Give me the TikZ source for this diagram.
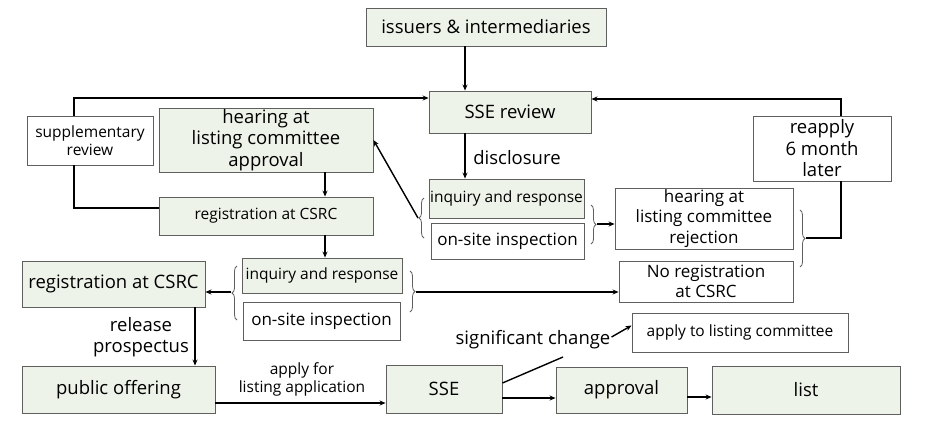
\documentclass[tikz,border=0pt]{standalone}
\usepackage{fontspec}
\setmainfont{Open Sans}
\usetikzlibrary{arrows.meta,decorations.pathreplacing}
\definecolor{boxgreen}{RGB}{238,243,233}
\definecolor{boxline}{RGB}{95,95,95}
\newcommand{\bigtxt}{\fontsize{18.5}{21.5}\selectfont}
\newcommand{\midtxt}{\fontsize{17}{20.5}\selectfont}
\newcommand{\smalltxt}{\fontsize{15.5}{18}\selectfont}
\begin{document}
\begin{tikzpicture}[x=1pt,y=-1pt,
  every node/.style={inner sep=0pt,align=center},
  gbox/.style={draw=boxline,line width=0.9pt,fill=boxgreen},
  wbox/.style={draw=boxline,line width=0.9pt,fill=white},
  arr/.style={line width=1.4pt,-{Stealth[length=6pt,width=5pt]}},
  link/.style={line width=1.4pt},
  brack/.style={draw=boxline,line width=0.8pt,decorate,decoration={brace,amplitude=5pt}}]
  \useasboundingbox (0,0) rectangle (928,440);
  % top part
  \node[gbox,minimum width=240pt,minimum height=38pt,font=\bigtxt] (issuers) at (486,27) {issuers \& intermediaries};
  \node[gbox,minimum width=162pt,minimum height=42pt,font=\bigtxt] (ssereview) at (510,112) {SSE review};
  \node[wbox,minimum width=126pt,minimum height=49pt,font=\smalltxt] (supp) at (90,140.5) {supplementary\\review};
  \node[gbox,minimum width=214pt,minimum height=64pt,font=\bigtxt] (approve) at (266,140) {hearing at\\listing committee\\approval};
  \node[gbox,minimum width=214pt,minimum height=38pt,font=\smalltxt] (reg1) at (266,216) {registration at CSRC};
  \node[wbox,minimum width=138pt,minimum height=65pt,font=\bigtxt] (reapply) at (822,148.5) {reapply\\6 month\\later};
  \node[font=\bigtxt] (discl) at (517,158) {disclosure};
  % first inquiry
  \node[gbox,minimum width=155pt,minimum height=39pt,font=\smalltxt] (inq1) at (506.5,198.5) {inquiry and response};
  \node[wbox,minimum width=153pt,minimum height=36pt,font=\midtxt] (site1) at (507.5,241) {on-site inspection};
  \node[wbox,minimum width=178pt,minimum height=61pt,font=\midtxt] (reject) at (704,218.5) {hearing at\\listing committee\\rejection};
  \node[wbox,minimum width=174pt,minimum height=41pt,font=\midtxt] (noreg) at (706,281.5) {No registration\\at CSRC};
  % second inquiry
  \node[gbox,minimum width=160pt,minimum height=35pt,font=\smalltxt] (inq2) at (322,275.5) {inquiry and response};
  \node[wbox,minimum width=157pt,minimum height=38pt,font=\midtxt] (site2) at (321.5,321) {on-site inspection};
  \node[gbox,minimum width=183pt,minimum height=46pt,font=\bigtxt] (reg2) at (113.5,284) {registration at CSRC};
  \node[font=\bigtxt] (release) at (141,337) {release\\prospectus};
  % bottom row
  \node[gbox,minimum width=193pt,minimum height=47pt,font=\bigtxt] (public) at (118.5,389.5) {public offering};
  \node[font=\smalltxt] (applyfor) at (302,379) {apply for\\listing application};
  \node[gbox,minimum width=116pt,minimum height=48pt,font=\bigtxt] (sse) at (444,389) {SSE};
  \node[gbox,minimum width=131pt,minimum height=46pt,font=\bigtxt] (approval) at (621.5,390) {approval};
  \node[gbox,minimum width=188pt,minimum height=48pt,font=\bigtxt] (list) at (806,390) {list};
  \node[font=\bigtxt] (sigchg) at (533,340) {significant change};
  \node[wbox,minimum width=216pt,minimum height=39pt,font=\smalltxt] (applylc) at (740,332.5) {apply to listing committee};
  % helper coordinates
  \coordinate (mainx) at (465,0);
  \coordinate (suppx) at (74,0);
  \coordinate (regx) at (325,0);
  \coordinate (rex) at (841,0);
  \coordinate (relx) at (195,0);
  \coordinate (nub1) at (418,218);
  \coordinate (nub2) at (597,224);
  \coordinate (nub3) at (806,238);
  \coordinate (nub4) at (231,292);
  \coordinate (nub5) at (416,292);
  \coordinate (sigfoot) at (563,357);
  % braces
  \draw[brack] (424,238) -- (424,198);
  \draw[brack] (591,205) -- (591,244);
  \draw[brack] (800,210) -- (800,267);
  \draw[brack] (237,320) -- (237,266);
  \draw[brack] (410,271) -- (410,312);
  % connectors
  \draw[arr] (issuers.south -| mainx) -- (ssereview.north -| mainx);
  \draw[arr] (ssereview.south -| mainx) -- (inq1.north -| mainx);
  \draw[arr] (supp.north -| suppx) |- ([yshift=14pt]ssereview.west);
  \draw[link] (supp.south -| suppx) |- ([yshift=8pt]reg1.west);
  \draw[arr] (approve.south -| regx) -- (reg1.north -| regx);
  \draw[arr] (reg1.south -| regx) -- (inq2.north -| regx);
  \draw[arr] (nub1) -- (approve.east);
  \draw[arr] (nub2) -- (nub2 -| reject.west);
  \draw[link] (nub3) -| (reapply.south -| rex);
  \draw[arr] (reapply.north -| rex) |- ([yshift=13pt]ssereview.east);
  \draw[arr] (nub4) -- (nub4 -| reg2.east);
  \draw[arr] (nub5) -- (nub5 -| noreg.west);
  \draw[arr] (reg2.south -| relx) -- (public.north -| relx);
  \draw[arr] ([yshift=-13.5pt]public.east) -- ([yshift=-13.5pt]public.east -| sse.west);
  \draw[arr] ([yshift=-9pt]sse.east) -- ([yshift=-9pt]sse.east -| approval.west);
  \draw[arr] ([yshift=-7pt]approval.east) -- ([yshift=-7pt]approval.east -| list.west);
  \draw[link] ([yshift=6pt]sse.east) -- (sigfoot);
  \draw[arr] ([xshift=1pt,yshift=3pt]sigchg.east) -- ([yshift=7pt]applylc.west);
\end{tikzpicture}
\end{document}
